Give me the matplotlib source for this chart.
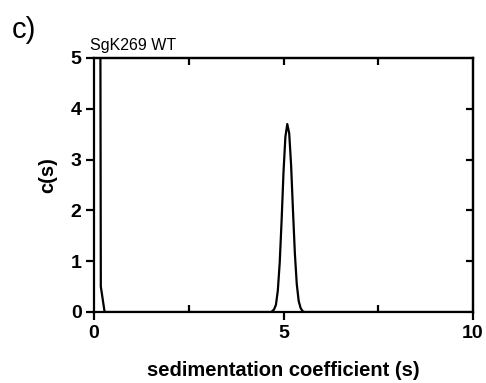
import matplotlib
matplotlib.use("Agg")
import matplotlib.pyplot as plt

plt.rcParams['font.family'] = ['Liberation Sans', 'DejaVu Sans']

s_vals = [0.11, 0.18, 0.28, 0.5, 1.0, 2.0, 3.0, 4.0, 4.5, 4.68, 4.75, 4.80, 4.85, 4.90, 4.95,
          5.00, 5.05, 5.10, 5.15, 5.20, 5.25, 5.30, 5.35, 5.40, 5.45, 5.50, 5.55,
          6.0, 7.0, 8.0, 9.0, 10.0]
c_vals = [30.0, 0.5, 0.0, 0.0, 0.0, 0.0, 0.0, 0.0, 0.0, 0.0, 0.05, 0.14, 0.42, 0.97, 1.80,
          2.75, 3.45, 3.70, 3.52, 2.90, 2.00, 1.15, 0.55, 0.22, 0.08, 0.02, 0.0,
          0.0, 0.0, 0.0, 0.0, 0.0]

x_ticks = [0, 5, 10]
y_ticks = [0, 1, 2, 3, 4, 5]

fig = plt.figure(figsize=(4.86, 3.83), dpi=100)
ax = fig.add_axes([94/486, 1-312/383, (473-94)/486, (312-58)/383])
ax.plot(s_vals, c_vals, color='black', lw=1.6, clip_on=True)
ax.set_xlim(0, 10)
ax.set_ylim(0, 5)
ax.set_xticks(x_ticks)
ax.set_yticks(y_ticks)
ax.set_xticks([2.5, 7.5], minor=True)
for sp in ax.spines.values():
    sp.set_linewidth(1.6)
ax.tick_params(which='major', direction='out', length=6, width=1.6, labelsize=14, pad=3)
ax.tick_params(axis='x', which='minor', direction='in', length=5, width=1.6)
for lbl in ax.get_xticklabels() + ax.get_yticklabels():
    lbl.set_fontweight('bold')

top = ax.secondary_xaxis('top')
top.set_xticks([2.5, 5, 7.5])
top.tick_params(direction='in', length=5, width=1.6, labeltop=False)
top.spines['top'].set_linewidth(1.6)
right = ax.secondary_yaxis('right')
right.set_yticks([1, 2, 3, 4])
right.tick_params(direction='in', length=5, width=1.6, labelright=False)
right.spines['right'].set_linewidth(1.6)

ax.set_xlabel('sedimentation coefficient (s)', fontsize=14.5, fontweight='bold', labelpad=14)
ax.set_ylabel('c(s)', fontsize=14.5, fontweight='bold')
ax.yaxis.set_label_coords(-0.098, 0.54)
ax.annotate('SgK269 WT', xy=(0, 1), xycoords='axes fraction', xytext=(-3, 6),
            textcoords='offset points', fontsize=11.5, ha='left', va='baseline')
fig.text(12/486, 1-38/383, 'c)', fontsize=21, ha='left', va='baseline')

fig.savefig('out.png', dpi=100)
